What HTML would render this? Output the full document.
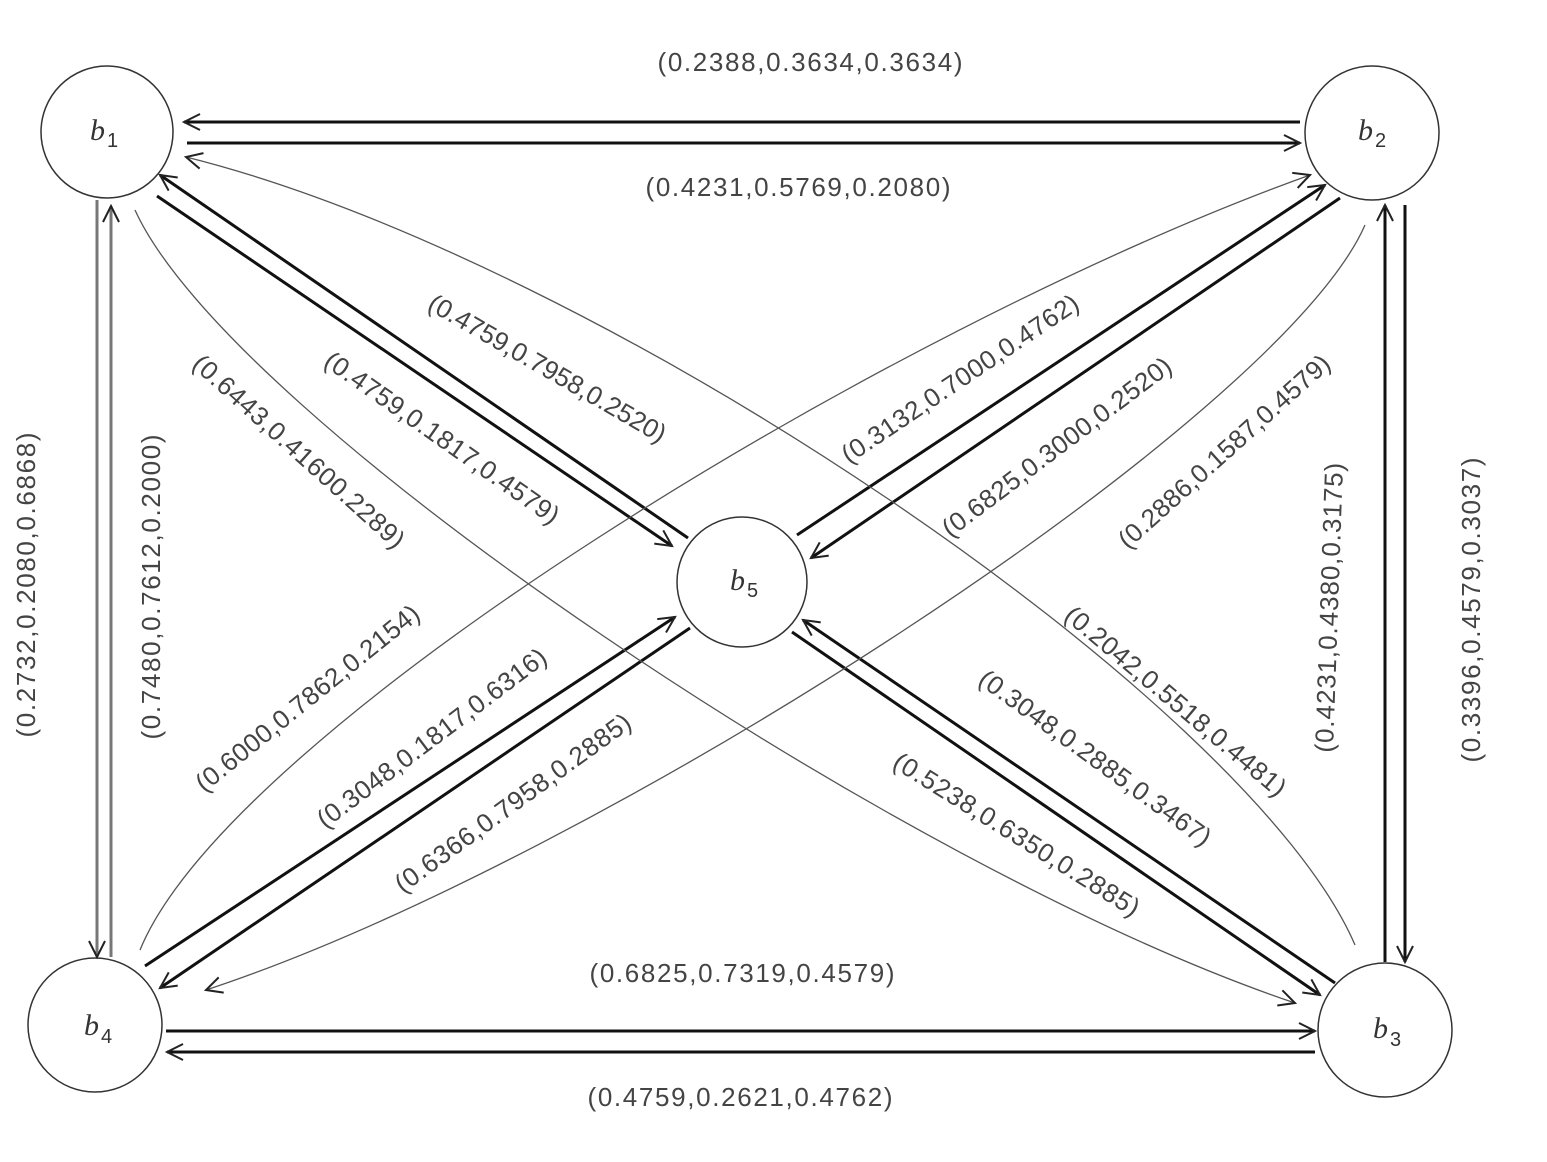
<!DOCTYPE html>
<html><head><meta charset="utf-8"><style>
html,body{margin:0;padding:0;background:#fff;}
svg{display:block;}
.t{font-family:"Liberation Sans",sans-serif;font-size:26px;fill:#444;}
.n{font-family:"Liberation Serif",serif;font-style:italic;font-size:30px;fill:#333;}
.s{font-family:"Liberation Sans",sans-serif;font-size:20px;fill:#333;}
</style></head><body>
<svg width="1547" height="1162" viewBox="0 0 1547 1162" xmlns="http://www.w3.org/2000/svg">
<defs>
<marker id="a" markerWidth="24" markerHeight="20" refX="20" refY="10" orient="auto" markerUnits="userSpaceOnUse">
<path d="M4,2 L20,10 L4,18" fill="none" stroke="#222" stroke-width="2"/>
</marker>
</defs>
<g fill="none" stroke="#333" stroke-width="1.5">
<circle cx="107" cy="132" r="66"/>
<circle cx="1372" cy="133" r="67"/>
<circle cx="1385" cy="1030" r="67"/>
<circle cx="95" cy="1025" r="67"/>
<circle cx="742" cy="582" r="65"/>
</g>
<g stroke="#111" stroke-width="3" fill="none">
<line x1="1300" y1="122" x2="184" y2="122" marker-end="url(#a)"/>
<line x1="187" y1="143" x2="1300" y2="143" marker-end="url(#a)"/>
<line x1="166" y1="1031" x2="1315" y2="1031" marker-end="url(#a)"/>
<line x1="1315" y1="1052" x2="167" y2="1052" marker-end="url(#a)"/>
<line x1="688" y1="538" x2="160" y2="175" marker-end="url(#a)"/>
<line x1="157" y1="196" x2="672" y2="546" marker-end="url(#a)"/>
<line x1="797" y1="535" x2="1325" y2="185" marker-end="url(#a)"/>
<line x1="1340" y1="198" x2="811" y2="558" marker-end="url(#a)"/>
<line x1="145" y1="966" x2="675" y2="617" marker-end="url(#a)"/>
<line x1="690" y1="628" x2="160" y2="988" marker-end="url(#a)"/>
<line x1="1335" y1="983" x2="803" y2="620" marker-end="url(#a)"/>
<line x1="792" y1="632" x2="1320" y2="995" marker-end="url(#a)"/>
<line x1="1405" y1="205" x2="1405" y2="962" marker-end="url(#a)"/>
<line x1="1385" y1="962" x2="1385" y2="205" marker-end="url(#a)"/>
</g>
<g stroke="#777" stroke-width="3" fill="none">
<line x1="97" y1="200" x2="97" y2="957" marker-end="url(#a)"/>
<line x1="111" y1="957" x2="111" y2="206" marker-end="url(#a)"/>
</g>
<g stroke="#555" stroke-width="1.3" fill="none">
<path d="M135,210 C230,420 900,870 1295,1003" marker-end="url(#a)"/>
<path d="M1355,945 C1250,700 600,260 186,157" marker-end="url(#a)"/>
<path d="M1365,225 C1280,420 600,860 206,990" marker-end="url(#a)"/>
<path d="M140,950 C230,730 880,330 1310,175" marker-end="url(#a)"/>
</g>
<text class="n" x="90" y="140">b</text><text class="s" x="107" y="147">1</text>
<text class="n" x="1358" y="140">b</text><text class="s" x="1375" y="147">2</text>
<text class="n" x="1373" y="1038">b</text><text class="s" x="1390" y="1046">3</text>
<text class="n" x="84" y="1035">b</text><text class="s" x="101" y="1043">4</text>
<text class="n" x="730" y="590">b</text><text class="s" x="747" y="597">5</text>
<g class="t" text-anchor="middle">
<text x="810" y="71" textLength="305">(0.2388,0.3634,0.3634)</text>
<text x="798" y="196" textLength="305">(0.4231,0.5769,0.2080)</text>
<text x="742" y="982" textLength="305">(0.6825,0.7319,0.4579)</text>
<text x="740" y="1106" textLength="305">(0.4759,0.2621,0.4762)</text>
<text transform="translate(35,585) rotate(-90)" textLength="305">(0.2732,0.2080,0.6868)</text>
<text transform="translate(160,587) rotate(-90)" textLength="305">(0.7480,0.7612,0.2000)</text>
<text transform="translate(1338,608) rotate(-88)" textLength="290">(0.4231,0.4380,0.3175)</text>
<text transform="translate(1480,610) rotate(-90)" textLength="305">(0.3396,0.4579,0.3037)</text>
<text transform="translate(437,445) rotate(35)" textLength="280">(0.4759,0.1817,0.4579)</text>
<text transform="translate(543,376) rotate(30)" textLength="270">(0.4759,0.7958,0.2520)</text>
<text transform="translate(293,458) rotate(42)" textLength="275">(0.6443,0.41600.2289)</text>
<text transform="translate(965,386) rotate(-34)" textLength="280">(0.3132,0.7000,0.4762)</text>
<text transform="translate(1062,454) rotate(-37)" textLength="280">(0.6825,0.3000,0.2520)</text>
<text transform="translate(1230,458) rotate(-42)" textLength="275">(0.2886,0.1587,0.4579)</text>
<text transform="translate(313,705) rotate(-39)" textLength="280">(0.6000,0.7862,0.2154)</text>
<text transform="translate(437,745) rotate(-37)" textLength="280">(0.3048,0.1817,0.6316)</text>
<text transform="translate(518,810) rotate(-36)" textLength="285">(0.6366,0.7958,0.2885)</text>
<text transform="translate(1170,708) rotate(40)" textLength="280">(0.2042,0.5518,0.4481)</text>
<text transform="translate(1090,765) rotate(36)" textLength="280">(0.3048,0.2885,0.3467)</text>
<text transform="translate(1012,842) rotate(32)" textLength="285">(0.5238,0.6350,0.2885)</text>
</g>
</svg>
</body></html>
